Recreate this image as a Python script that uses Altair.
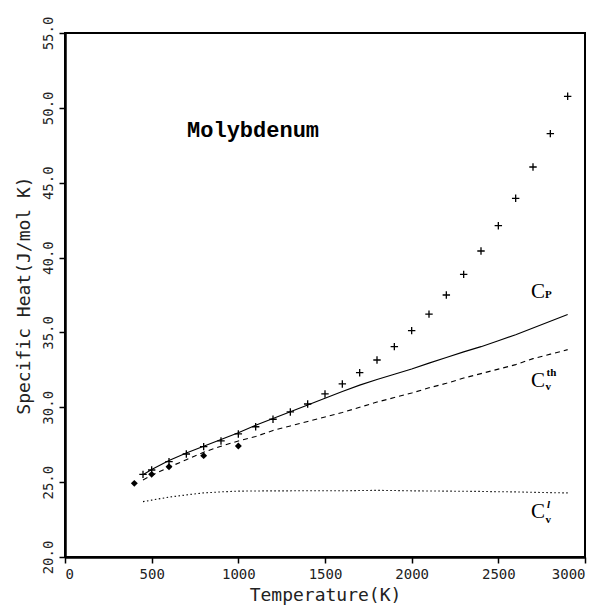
import altair as alt
import pandas as pd

# Experimental points (+)
plus_T = [450, 500, 600, 700, 800, 900, 1000, 1100, 1200, 1300, 1400, 1500, 1600,
          1700, 1800, 1900, 2000, 2100, 2200, 2300, 2400, 2500, 2600, 2700, 2800, 2900]
plus_C = [25.52, 25.81, 26.37, 26.88, 27.37, 27.75, 28.22, 28.70, 29.20, 29.69, 30.22,
          30.89, 31.56, 32.31, 33.16, 34.05, 35.12, 36.22, 37.50, 38.88, 40.44, 42.13,
          43.96, 46.05, 48.28, 50.77]

# Experimental points (filled diamonds)
dia_T = [400, 500, 600, 800, 1000]
dia_C = [24.92, 25.52, 26.03, 26.77, 27.41]

# Curves
line_T = [450, 500, 600, 700, 800, 900, 1000, 1100, 1200, 1300, 1400, 1500, 1600,
          1700, 1800, 1900, 2000, 2100, 2200, 2300, 2400, 2500, 2600, 2700, 2800, 2900]
cp = [25.50, 25.85, 26.45, 26.95, 27.40, 27.85, 28.30, 28.80, 29.25, 29.70, 30.15,
      30.60, 31.05, 31.48, 31.86, 32.21, 32.56, 32.95, 33.33, 33.70, 34.05, 34.45,
      34.85, 35.30, 35.75, 36.20]
cv_th = [25.15, 25.45, 26.00, 26.50, 27.00, 27.40, 27.75, 28.05, 28.45, 28.75, 29.05,
         29.35, 29.65, 30.00, 30.35, 30.65, 30.95, 31.30, 31.60, 31.95, 32.25, 32.55,
         32.85, 33.25, 33.55, 33.85]
cv_l = [23.70, 23.80, 24.00, 24.15, 24.28, 24.35, 24.40, 24.41, 24.42, 24.42, 24.43,
        24.43, 24.42, 24.44, 24.45, 24.44, 24.42, 24.41, 24.40, 24.39, 24.38, 24.36,
        24.35, 24.32, 24.30, 24.28]

x_ticks = [0, 500, 1000, 1500, 2000, 2500, 3000]
y_ticks = [20, 25, 30, 35, 40, 45, 50, 55]

plus_df = pd.DataFrame({"T": plus_T, "C": plus_C})
dia_df = pd.DataFrame({"T": dia_T, "C": dia_C})
line_df = pd.DataFrame({"T": line_T, "Cp": cp, "Cvth": cv_th, "Cvl": cv_l})

xs = alt.Scale(domain=[0, 3000], nice=False)
ys = alt.Scale(domain=[20, 55], nice=False)

X = alt.X("T:Q", scale=xs, axis=alt.Axis(values=x_ticks, format="d", title="Temperature(K)"))
def Y(field):
    return alt.Y(field, scale=ys, axis=alt.Axis(values=y_ticks, format=".1f",
                                               title="Specific Heat(J/mol K)"))

base = alt.Chart(line_df)
l_cp = base.mark_line(color="black", strokeWidth=1.1).encode(x=X, y=Y("Cp:Q"))
l_th = base.mark_line(color="black", strokeWidth=1.1, strokeDash=[5, 4]).encode(x=X, y=Y("Cvth:Q"))
l_l = base.mark_line(color="black", strokeWidth=1.1, strokeDash=[1.5, 2.5]).encode(x=X, y=Y("Cvl:Q"))

pts_plus = alt.Chart(plus_df).mark_point(
    shape="M-1,0L1,0M0,-1L0,1", filled=False, color="black", strokeWidth=1.3, size=55, opacity=1
).encode(x=X, y=Y("C:Q"))
pts_dia = alt.Chart(dia_df).mark_point(
    shape="diamond", filled=True, color="black", size=48, opacity=1
).encode(x=X, y=Y("C:Q"))

# Annotations
title_df = pd.DataFrame({"T": [1085], "C": [48.5], "t": ["Molybdenum"]})
big_df = pd.DataFrame({"T": [2729, 2729, 2729], "C": [37.70, 31.76, 23.01], "t": ["C", "C", "C"]})
sub_df = pd.DataFrame({"T": [2788, 2788, 2788], "C": [37.47, 31.36, 22.48], "t": ["P", "v", "v"]})
sup_df = pd.DataFrame({"T": [2806], "C": [32.32], "t": ["th"]})
sup2_df = pd.DataFrame({"T": [2790], "C": [23.45], "t": ["l"]})

t_title = alt.Chart(title_df).mark_text(
    font="Liberation Mono", fontSize=22, fontWeight="bold", color="black", baseline="middle"
).encode(x=X, y=Y("C:Q"), text="t:N")
t_big = alt.Chart(big_df).mark_text(
    font="Liberation Serif", fontSize=21, color="black", baseline="middle"
).encode(x=X, y=Y("C:Q"), text="t:N")
t_sub = alt.Chart(sub_df).mark_text(
    font="Liberation Serif", fontSize=11, fontWeight="bold", color="black", baseline="middle"
).encode(x=X, y=Y("C:Q"), text="t:N")
t_sup = alt.Chart(sup_df).mark_text(
    font="Liberation Serif", fontSize=11, fontWeight="bold", color="black", baseline="middle"
).encode(x=X, y=Y("C:Q"), text="t:N")
t_sup2 = alt.Chart(sup2_df).mark_text(
    font="Liberation Serif", fontSize=11, fontWeight="bold", fontStyle="italic", color="black", baseline="middle"
).encode(x=X, y=Y("C:Q"), text="t:N")

chart = alt.layer(l_cp, l_th, l_l, pts_plus, pts_dia, t_title, t_big, t_sub, t_sup, t_sup2).properties(
    width=520, height=524,
    autosize=alt.AutoSizeParams(type="none"),
    padding={"left": 65, "top": 33, "right": 15, "bottom": 52},
    background="white",
).configure_view(
    stroke="black", strokeWidth=2
).configure_axis(
    grid=False,
    domainColor="black", domainWidth=2.5,
    tickColor="black", tickWidth=1.5, tickSize=6,
    labelFont="DejaVu Sans Mono", labelFontSize=14, labelColor="#222222", labelPadding=4,
    titleFont="DejaVu Sans Mono", titleFontSize=18, titleFontWeight="normal", titleColor="#222222",
).configure_axisY(
    labelAngle=270, labelAlign="center", labelBaseline="bottom", titlePadding=8,
).configure_axisX(
    titlePadding=5,
)

chart.save("out.html", embed_options={"renderer": "svg", "actions": False})
